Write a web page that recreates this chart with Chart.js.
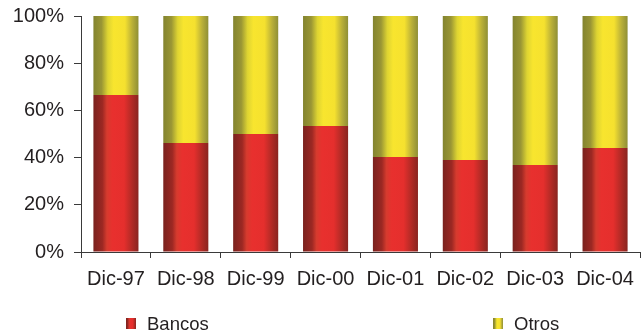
<!DOCTYPE html>
<html>
<head>
<meta charset="utf-8">
<script src="https://cdn.jsdelivr.net/npm/chart.js@4/dist/chart.umd.min.js"></script>
<style>
  html, body { margin: 0; padding: 0; background: #ffffff; }
  #wrap { width: 644px; height: 335px; position: relative; }
</style>
</head>
<body>
<div id="wrap"><canvas id="chart"></canvas></div>
<script>
// Share of each group, in percent of the year-end total
const categories = ['Dic-97', 'Dic-98', 'Dic-99', 'Dic-00', 'Dic-01', 'Dic-02', 'Dic-03', 'Dic-04'];
const bancos = [66.5, 46.2, 50.0, 53.4, 40.3, 39.0, 36.9, 44.1];
const otros = [33.5, 53.8, 50.0, 46.6, 59.7, 61.0, 63.1, 55.9];
const seriesNames = ['Bancos', 'Otros'];
const yTickStep = 20;

// Cylinder-like shading across each bar, left edge to right edge
const redStops = [
  [0, '#7a221e'], [0.2, '#9c2823'], [0.3, '#d63b2e'], [0.42, '#e8302e'],
  [0.68, '#e52f2d'], [0.86, '#b02a25'], [1, '#892520']
];
const yellowStops = [
  [0, '#83842f'], [0.18, '#9a9634'], [0.32, '#ded432'], [0.45, '#f8e52e'],
  [0.7, '#f5e12f'], [0.86, '#bab038'], [1, '#8f8f36']
];

const BAR_PCT = 0.645;
const FONT = "'Liberation Sans', Arial, Helvetica, sans-serif";

function makeGradient(ctx2d, left, right, stops) {
  const g = ctx2d.createLinearGradient(left, 0, right, 0);
  stops.forEach(([o, c]) => g.addColorStop(o, c));
  return g;
}

function barFill(stops) {
  return (ctx) => {
    const chart = ctx.chart;
    const x = chart.scales && chart.scales.x;
    if (!chart.chartArea || !x || ctx.type !== 'data') return stops[3][1];
    const cx = x.getPixelForValue(ctx.dataIndex);
    const w = (x.width / categories.length) * BAR_PCT;
    return makeGradient(chart.ctx, cx - w / 2, cx + w / 2, stops);
  };
}

// Legend row under the axis labels
const bottomLegend = {
  id: 'bottomLegend',
  afterDraw(chart) {
    const ctx = chart.ctx;
    const items = [
      { boxX: 126, stops: redStops, label: chart.data.datasets[0].label },
      { boxX: 493, stops: yellowStops, label: chart.data.datasets[1].label }
    ];
    ctx.save();
    ctx.font = '18.5px ' + FONT;
    ctx.textBaseline = 'alphabetic';
    items.forEach(it => {
      ctx.fillStyle = makeGradient(ctx, it.boxX, it.boxX + 10, it.stops);
      ctx.fillRect(it.boxX, 318, 10, 11);
      ctx.fillStyle = '#231f20';
      ctx.fillText(it.label, it.boxX + 21, 330);
    });
    ctx.restore();
  }
};

new Chart(document.getElementById('chart'), {
  type: 'bar',
  data: {
    labels: categories,
    datasets: [
      { label: seriesNames[0], data: bancos, backgroundColor: barFill(redStops), borderWidth: 0 },
      { label: seriesNames[1], data: otros, backgroundColor: barFill(yellowStops), borderWidth: 0 }
    ]
  },
  options: {
    responsive: true,
    maintainAspectRatio: false,
    animation: false,
    events: [],
    layout: { padding: { top: 16, right: 4, left: 0, bottom: 0 } },
    datasets: { bar: { categoryPercentage: 1, barPercentage: BAR_PCT } },
    plugins: {
      legend: { display: false },
      tooltip: { enabled: false }
    },
    scales: {
      x: {
        stacked: true,
        afterFit: s => { s.height = 83; s.paddingLeft = 0; s.paddingRight = 0; },
        grid: { drawOnChartArea: false, drawTicks: true, tickLength: 6, color: '#3a3a3a', offset: true },
        border: { color: '#3a3a3a', width: 1 },
        ticks: { color: '#231f20', font: { family: FONT, size: 20 }, padding: 9, maxRotation: 0, autoSkip: false }
      },
      y: {
        stacked: true,
        min: 0,
        max: 100,
        afterFit: s => { s.width = 81; s.paddingTop = 0; s.paddingBottom = 0; },
        grid: { drawOnChartArea: false, drawTicks: true, tickLength: 7, color: '#3a3a3a' },
        border: { color: '#3a3a3a', width: 1 },
        ticks: {
          stepSize: yTickStep,
          color: '#231f20',
          font: { family: FONT, size: 20 },
          padding: 10,
          callback: v => v + '%'
        }
      }
    }
  },
  plugins: [bottomLegend]
});
</script>
</body>
</html>
